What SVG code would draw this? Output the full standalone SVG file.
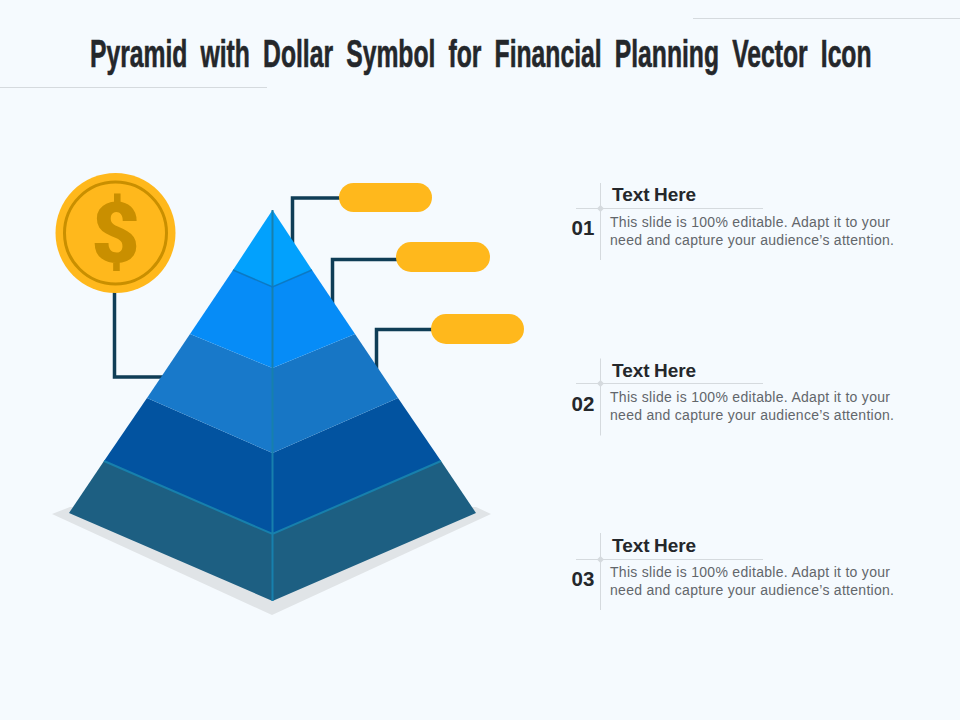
<svg xmlns="http://www.w3.org/2000/svg" width="960" height="720" viewBox="0 0 960 720">
<style>
.rule{stroke:#d5dade;stroke-width:1;fill:none}
.conn{stroke:#0f3d56;stroke-width:3.5;fill:none}
.pill{fill:#ffb81c}
.seam{stroke:#1780ad;stroke-width:2;fill:none}
.head{font-family:"Liberation Sans",Arial,sans-serif;font-weight:700;font-size:19px;word-spacing:-1px;fill:#24272b}
.body{font-family:"Liberation Sans",Arial,sans-serif;font-size:14px;fill:#62666b}
.num{font-family:"Liberation Sans",Arial,sans-serif;font-weight:700;font-size:20.500px;fill:#24272b}
</style>
<rect width="960" height="720" fill="#f5fafe"/>
<g id="title">
<line class="rule" x1="0" y1="87.500" x2="267" y2="87.500"/>
<line class="rule" x1="693" y1="18.500" x2="960" y2="18.500"/>
<text transform="translate(90 67) scale(0.633 1)" font-family="'Liberation Sans',Arial,sans-serif" font-weight="700" font-size="39" word-spacing="10" fill="#24272b" stroke="#24272b" stroke-width="0.6">Pyramid with Dollar Symbol for Financial Planning Vector Icon</text>
</g>
<g id="connectors">
<path class="conn" d="M114.500 290V377H170"/>
<path class="conn" d="M292.500 250V198H341"/>
<path class="conn" d="M332.500 310V259.500H398"/>
<path class="conn" d="M376.500 375V329.500H433"/>
</g>
<g id="pyramid">
<polygon points="52,514 70,507 476,507 491,514 272,615" fill="#e0e4e7"/>
<polygon points="104,461 272.500,534 272.500,601 69,513" fill="#1d5f82"/>
<polygon points="441,461 272.500,534 272.500,601 476,513" fill="#1d5f82"/>
<polygon points="147,398 272.500,453 272.500,534 104,461" fill="#0253a0"/>
<polygon points="398,398 272.500,453 272.500,534 441,461" fill="#0253a0"/>
<polygon points="190,334 272.500,368 272.500,453 147,398" fill="#1879ca"/>
<polygon points="355,334 272.500,368 272.500,453 398,398" fill="#1776c5"/>
<polygon points="233,270 272.500,287 272.500,368 190,334" fill="#068cf7"/>
<polygon points="312,270 272.500,287 272.500,368 355,334" fill="#068cf7"/>
<polygon points="272.500,210 272.500,287 233,270" fill="#02a1fd"/>
<polygon points="272.500,210 272.500,287 312,270" fill="#02a1fd"/>
<path class="seam" d="M272.500 210V601M104 461L272.500 534L441 461"/>
<path d="M233 270L272.500 287L312 270" fill="none" stroke="#0b79c4" stroke-width="1.500"/>
</g>
<g id="coin">
<circle cx="115.500" cy="233" r="60" fill="#ffb81c"/>
<circle cx="115.500" cy="233" r="51" fill="none" stroke="#c98f00" stroke-width="3"/>
<text x="115.500" y="262" text-anchor="middle" font-family="Roboto,'Noto Sans',sans-serif" font-weight="900" font-size="84" fill="#c98f00">$</text>
</g>
<g id="tag-1"><rect class="pill" x="339" y="183" width="93" height="29" rx="14.500"/></g>
<g id="tag-2"><rect class="pill" x="396" y="242" width="94" height="30" rx="15"/></g>
<g id="tag-3"><rect class="pill" x="431" y="314" width="93" height="30" rx="15"/></g>
<g id="item-1">
<line class="rule" x1="600.500" y1="183" x2="600.500" y2="260"/>
<line class="rule" x1="576" y1="208.500" x2="763" y2="208.500"/>
<polygon points="600.500,205 604,208.500 600.500,212 597,208.500" fill="#d5dade"/>
<text class="head" x="612" y="201">Text Here</text>
<text class="num" x="571.500" y="235">01</text>
<text class="body" x="610" y="227" textLength="280">This slide is 100% editable. Adapt it to your</text>
<text class="body" x="610" y="245" textLength="284">need and capture your audience’s attention.</text>
</g>
<g id="item-2">
<line class="rule" x1="600.500" y1="358.500" x2="600.500" y2="435.500"/>
<line class="rule" x1="576" y1="383.500" x2="763" y2="383.500"/>
<polygon points="600.500,380 604,383.500 600.500,387 597,383.500" fill="#d5dade"/>
<text class="head" x="612" y="377">Text Here</text>
<text class="num" x="571.500" y="411">02</text>
<text class="body" x="610" y="402" textLength="280">This slide is 100% editable. Adapt it to your</text>
<text class="body" x="610" y="420" textLength="284">need and capture your audience’s attention.</text>
</g>
<g id="item-3">
<line class="rule" x1="600.500" y1="533" x2="600.500" y2="610"/>
<line class="rule" x1="576" y1="559.500" x2="763" y2="559.500"/>
<polygon points="600.500,556 604,559.500 600.500,563 597,559.500" fill="#d5dade"/>
<text class="head" x="612" y="552">Text Here</text>
<text class="num" x="571.500" y="586">03</text>
<text class="body" x="610" y="577" textLength="280">This slide is 100% editable. Adapt it to your</text>
<text class="body" x="610" y="595" textLength="284">need and capture your audience’s attention.</text>
</g>
</svg>
